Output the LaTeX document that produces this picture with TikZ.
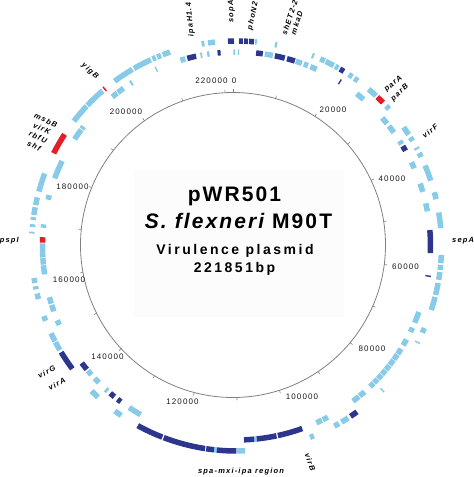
\documentclass[tikz,border=0pt]{standalone}
\usepackage{fontspec}
\setmainfont{Liberation Sans}
\newfontfamily\titlefont[LetterSpace=10]{Liberation Sans}
\newfontfamily\subfont[LetterSpace=18]{Liberation Sans}
\newfontfamily\tickfont[LetterSpace=14]{Liberation Sans}
\newfontfamily\genefont[LetterSpace=16]{Liberation Sans}
\definecolor{genelight}{RGB}{135,203,232}
\definecolor{genedark}{RGB}{44,54,140}
\definecolor{genered}{RGB}{226,30,38}
\newcommand{\rout}{205}
\newcommand{\rin}{194}
% one gene box: start/end (deg, clockwise from top), band radius, colour
\newcommand{\genebox}[4]{%
  \fill[#4,shift={(rc)}] (90-#1:#3-2.75) arc[start angle=90-#1,end angle=90-#2,radius=#3-2.75]
    -- (90-#2:#3+2.75) arc[start angle=90-#2,end angle=90-#1,radius=#3+2.75] -- cycle;}
\tikzset{
  ticklabel/.style={font={\tickfont\fontsize{8}{9}\selectfont},text=black!90,inner sep=0},
  genelabel/.style={font={\genefont\fontsize{7.5}{9.4}\selectfont\bfseries\itshape},inner sep=0},
  titletext/.style={font={\titlefont\fontsize{21}{24}\selectfont\bfseries},inner sep=0},
  subtext/.style={font={\subfont\fontsize{14}{16}\selectfont\bfseries},inner sep=0}
}

\begin{document}
\begin{tikzpicture}[x=1pt,y=1pt]
  \useasboundingbox (-233,-232) rectangle (241,245);
  \coordinate (rc) at (3.5,-1);
  \fill[black!1] (-99,75) rectangle (111,-72);

  % backbone and ticks
  \draw[gray,line width=0.8pt] (0,0) circle (152.5);
  \foreach \k in {0,10,...,220}
    \draw[gray,line width=0.6pt] ({90-\k/221.851*360}:152.5) -- ({90-\k/221.851*360}:155.5);

  \node[ticklabel] (t0) at (1,164.5) {0};
  \node[ticklabel] (t220) at (-21.5,164.5) {220000};
  \node[ticklabel] (t20) at (100,135) {20000};
  \node[ticklabel] (t40) at (159,66) {40000};
  \node[ticklabel] (t60) at (172.5,-22) {60000};
  \node[ticklabel] (t80) at (139,-103.5) {80000};
  \node[ticklabel] (t100) at (69,-151.5) {100000};
  \node[ticklabel] (t120) at (-50.5,-156.5) {120000};
  \node[ticklabel] (t140) at (-125.5,-112) {140000};
  \node[ticklabel] (t160) at (-164,-34.5) {160000};
  \node[ticklabel] (t180) at (-160.5,58) {180000};
  \node[ticklabel] (t200) at (-107,133) {200000};

  % outer band
  \foreach \s/\e in {350.2/351.0,352.0/354.0,5.2/5.7,10.8/11.4,21.6/22.2,24.1/25.5,25.8/28.3,
      28.8/29.8,33.2/34.4,35.1/36.3,40.1/42.9,46.9/48.1,54.6/57.1,58.0/59.2,61.3/61.9,
      63.0/64.3,66.9/71.4,74.8/76.8,80.6/85.0,92.5/94.8,95.3/96.7,97.3/99.5,100.4/103.8,
      104.4/108.2,113.6/115.0,117.8/118.2,134.5/134.9,147.0/149.2,150.0/151.5,157.8/159.0,
      177.6/179.9,185.5/186.3,214.2/216.4,222.5/225.0,239.5/242.0,242.3/244.8,248.6/250.0,
      255.0/256.6,257.8/258.7,259.6/261.0,273.5/274.0,275.3/276.1,277.3/278.1,278.7/280.9,
      281.5/283.7,285.4/290.7,307.5/313.0,313.3/319.2,323.5/329.5,330.0/335.3,335.8/336.8,
      337.2/338.4,338.9/341.1}
    \genebox{\s}{\e}{\rout}{genelight};
  \foreach \s/\e in {357.6/359.3,0.7/1.8,2.1/3.2,3.5/4.9,30.3/31.6,144.0/146.2,180.0/185.5,
      186.3/188.5,188.8/200.8,201.2/208.8,233.2/238.8}
    \genebox{\s}{\e}{\rout}{genedark};
  \foreach \s/\e in {43.4/45.6,296.9/303.0,319.8/320.2}
    \genebox{\s}{\e}{\rout}{genered};

  % inner band
  \foreach \s/\e in {343.2/344.7,349.3/349.8,351.3/352.0,359.1/359.6,0.4/0.8,8.4/10.8,
      17.8/19.7,20.3/21.6,22.4/24.4,38.3/40.9,48.7/50.9,51.8/54.2,57.2/58.4,64.4/66.4,
      71.2/73.8,77.3/79.7,109.9/113.3,114.9/116.3,118.8/120.8,122.0/123.8,124.0/125.8,
      126.0/127.8,128.0/129.6,129.8/131.4,131.6/133.2,133.4/134.8,135.0/136.5,138.7/140.6,
      140.9/143.1,151.9/153.6,153.9/155.7,174.0/174.8,209.6/213.6,221.6/222.4,225.2/227.0,
      228.4/230.0,246.0/247.5,250.3/252.3,252.7/254.7,261.6/264.3,264.5/266.4,266.6/270.8,
      275.4/276.4,283.8/285.2,290.4/296.0,303.4/306.8,307.1/308.0,320.2/322.0,322.3/324.4,
      326.9/327.5,335.4/335.8}
    \genebox{\s}{\e}{\rin}{genelight};
  \foreach \s/\e in {345.3/348.0,354.4/355.3,5.8/7.8,11.4/14.4,15.1/17.5,32.0/32.4,59.0/60.6,
      85.3/92.1,98.7/99.1,160.2/167.7,168.1/174.0,174.8/177.8,216.6/217.8,219.0/220.6,
      230.5/232.9}
    \genebox{\s}{\e}{\rin}{genedark};
  \genebox{271.0}{272.6}{\rin}{genered};

  % gene names
  \node[genelabel,anchor=west,rotate=95] (ipah) at (-41.3,208.3) {ipaH1.4};
  \node[genelabel,anchor=west,rotate=91] (sopa) at (-1.3,222) {sopA};
  \node[genelabel,anchor=west,rotate=78] (phon) at (17,215) {phoN2};
  \node[genelabel,anchor=west,rotate=72] (shet) at (51,210) {shET2-2};
  \node[genelabel,anchor=west,rotate=72] (mkad) at (60,210.5) {mkaD};
  \node[genelabel,anchor=west,rotate=40] (para) at (152.3,154.3) {parA};
  \node[genelabel,anchor=west,rotate=42] (parb) at (159,145) {parB};
  \node[genelabel,anchor=west,rotate=39] (virf) at (190,108.3) {virF};
  \node[genelabel,anchor=west] (sepa) at (219,4) {sepA};
  \node[genelabel,anchor=west,rotate=-70] (virb) at (74,-208) {virB};
  \node[genelabel] (spa) at (8,-227) {spa-mxi-ipa region};
  \node[genelabel,anchor=east,rotate=28] (virg) at (-178,-122.7) {virG};
  \node[genelabel,anchor=east,rotate=28] (vira) at (-168,-134.7) {virA};
  \node[genelabel,anchor=east] (pspi) at (-214,4) {pspI};
  \node[genelabel,align=center,rotate=-25] (msbb) at (-193,112) {msbB\\virK\\rbfU\\shf};
  \node[genelabel,rotate=-42] (yigb) at (-143,174) {yigB};

  % centre text
  \node[titletext] (name) at (1.5,48.5) {pWR501};
  \node[titletext] (strain) at (5.5,24) {{\itshape S. flexneri} M90T};
  \node[subtext] (kind) at (2,-6) {Virulence plasmid};
  \node[subtext] (size) at (1.5,-23.5) {221851bp};
\end{tikzpicture}
\end{document}
